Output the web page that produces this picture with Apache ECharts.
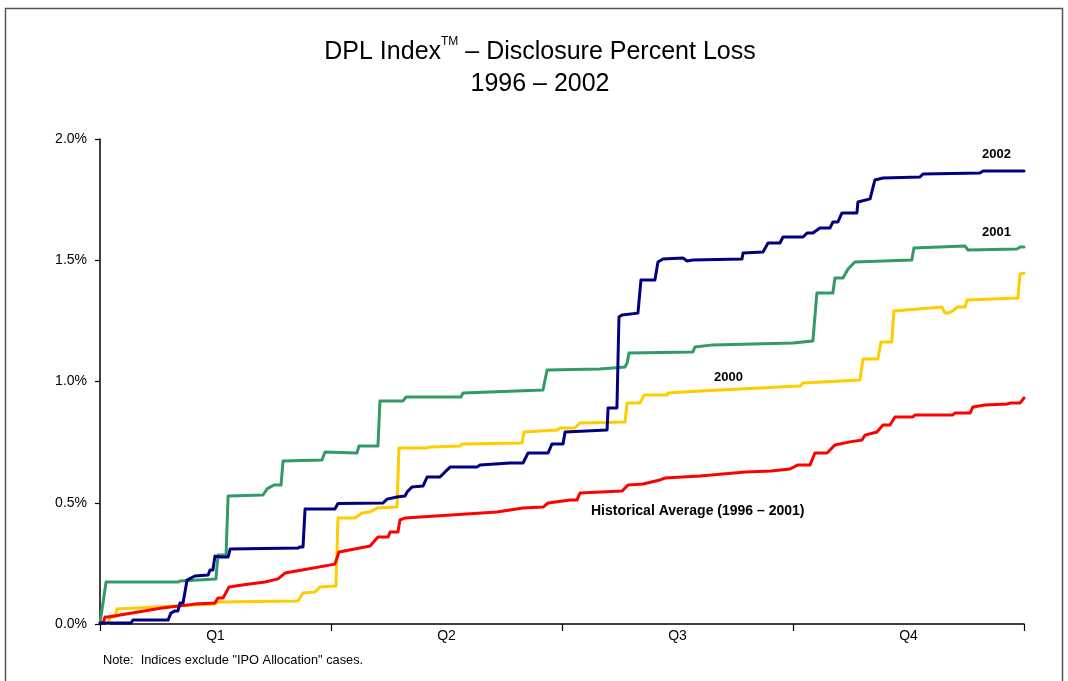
<!DOCTYPE html>
<html>
<head>
<meta charset="utf-8">
<title>DPL Index – Disclosure Percent Loss</title>
<script src="https://cdn.jsdelivr.net/npm/echarts@6/dist/echarts.min.js"></script>
<style>
  html, body { margin: 0; padding: 0; background: #ffffff; }
  #chart { width: 1068px; height: 681px; }
</style>
</head>
<body>
<div id="chart"></div>
<script>
// Quarter labels on the x axis (the year runs over days 0..365)
const quarters = ['Q1', 'Q2', 'Q3', 'Q4'];
const yearDays = 365;

// Percent-loss tick values on the y axis
const yTickValues = [0, 0.5, 1.0, 1.5, 2.0];

// Cumulative disclosure percent loss, [day of year, percent]
const dpl2002 = [
  [0, 0.004], [12.2, 0.004], [13, 0.016], [26.9, 0.016], [28, 0.045], [29.6, 0.054],
  [30.8, 0.054], [31.6, 0.087], [32.8, 0.087], [34.4, 0.181], [37.5, 0.198], [42.7, 0.202],
  [43.5, 0.223], [44.6, 0.223], [45.4, 0.280], [47.4, 0.276], [50.6, 0.276], [51.4, 0.309],
  [78.2, 0.313], [79, 0.318], [80.2, 0.318], [81, 0.474], [92.8, 0.474], [94, 0.497],
  [111.8, 0.499], [113.4, 0.515], [117.3, 0.524], [120.5, 0.528], [121.3, 0.544], [123.2, 0.565],
  [127.6, 0.569], [129.2, 0.606], [134.3, 0.606], [136.3, 0.627], [138.3, 0.647], [148.9, 0.647],
  [150.1, 0.656], [162, 0.664], [167.1, 0.664], [169.1, 0.705], [177, 0.705], [178.5, 0.742],
  [182.9, 0.742], [183.7, 0.792], [200.3, 0.800], [200.7, 0.891], [204.2, 0.891], [205, 1.266],
  [206.2, 1.274], [212.5, 1.282], [213.7, 1.419], [219.2, 1.419], [220.4, 1.493], [222.4, 1.505],
  [230.3, 1.509], [231.9, 1.497], [234.2, 1.501], [253.6, 1.505], [254, 1.530], [261.9, 1.534],
  [263.9, 1.571], [268.6, 1.571], [269.8, 1.596], [277.7, 1.596], [279.3, 1.612], [281.6, 1.612],
  [284.4, 1.633], [288.4, 1.633], [289.5, 1.658], [291.5, 1.658], [293.1, 1.695], [299, 1.695],
  [299.4, 1.740], [304.2, 1.753], [306.1, 1.831], [309.3, 1.839], [323.9, 1.843], [325.1, 1.856],
  [347.6, 1.860], [348.8, 1.868], [365, 1.868]
];

const dpl2001 = [
  [0, 0.004], [2.4, 0.173], [30.8, 0.173], [31.6, 0.177], [45.8, 0.186], [46.6, 0.285],
  [49.8, 0.285], [50.6, 0.528], [64.4, 0.532], [66, 0.557], [68.7, 0.573], [71.5, 0.573],
  [72.3, 0.672], [87.7, 0.676], [88.9, 0.709], [101.5, 0.705], [102.3, 0.734], [109.8, 0.734],
  [110.6, 0.920], [119.7, 0.920], [120.9, 0.936], [142.6, 0.936], [143.4, 0.953], [175, 0.965],
  [176.6, 1.047], [197.5, 1.052], [198, 1.060], [207.4, 1.060], [208.2, 1.076], [209, 1.118],
  [234.2, 1.122], [235, 1.142], [242.1, 1.151], [273.7, 1.159], [281.6, 1.167], [283.2, 1.365],
  [289.5, 1.365], [290.3, 1.427], [293.5, 1.427], [295.5, 1.464], [298.2, 1.493], [320.7, 1.501],
  [321.5, 1.551], [341.7, 1.559], [342.9, 1.542], [362.2, 1.546], [363.4, 1.555], [365, 1.555]
];

const dpl2000 = [
  [3.2, 0.000], [4, 0.029], [5.9, 0.029], [6.7, 0.062], [45.4, 0.082], [46.6, 0.091],
  [78.2, 0.095], [80.2, 0.128], [84.9, 0.132], [86.9, 0.153], [93.2, 0.157], [94, 0.437],
  [100.7, 0.437], [103.5, 0.458], [106.7, 0.462], [109.4, 0.478], [117.3, 0.482], [118.1, 0.726],
  [129.2, 0.726], [130.4, 0.730], [142.2, 0.734], [143, 0.742], [166.7, 0.746], [167.5, 0.792],
  [180.5, 0.800], [181.7, 0.808], [187.6, 0.808], [189.6, 0.829], [207.4, 0.833], [208.2, 0.911],
  [213.3, 0.911], [214.9, 0.944], [224, 0.944], [224.4, 0.953], [237, 0.961], [276.5, 0.981],
  [277.7, 0.994], [300.2, 1.006], [301.4, 1.093], [307.3, 1.093], [308.5, 1.163], [312.8, 1.163],
  [313.6, 1.291], [332.6, 1.307], [333.8, 1.282], [335, 1.282], [336.9, 1.291], [338.5, 1.307],
  [341.7, 1.307], [342.5, 1.336], [362.6, 1.344], [363.4, 1.443], [365, 1.447]
];

const dplHistorical = [
  [1.2, 0.004], [2, 0.029], [3.2, 0.029], [24.5, 0.066], [37.5, 0.082], [45.4, 0.087],
  [46.6, 0.107], [48.6, 0.107], [51, 0.153], [56.1, 0.161], [65.2, 0.173], [70.3, 0.186],
  [73.1, 0.210], [79.8, 0.223], [92.8, 0.247], [94.4, 0.297], [106.7, 0.322], [109.8, 0.359],
  [113.8, 0.359], [114.6, 0.379], [117.7, 0.379], [118.5, 0.429], [120.5, 0.437], [156.8, 0.462],
  [167.1, 0.478], [175, 0.482], [177, 0.499], [185.7, 0.511], [188.4, 0.511], [189.6, 0.540],
  [206.2, 0.548], [208.6, 0.573], [214.5, 0.577], [221.2, 0.594], [223.2, 0.602], [237, 0.610],
  [255, 0.627], [265, 0.631], [272.6, 0.639], [275.7, 0.656], [280.5, 0.656], [282.4, 0.705],
  [287.2, 0.705], [290.3, 0.738], [296.3, 0.751], [301, 0.759], [302.2, 0.779], [306.9, 0.792],
  [309.3, 0.821], [312.1, 0.821], [314, 0.854], [321.1, 0.854], [321.9, 0.862], [336.9, 0.862],
  [337.7, 0.870], [343.7, 0.870], [344.8, 0.895], [349.6, 0.903], [358.3, 0.907], [359.5, 0.911],
  [363.4, 0.911], [365, 0.932]
];

const FONT = '"Liberation Sans", Arial, Helvetica, sans-serif';

const chart = echarts.init(document.getElementById('chart'), null, { renderer: 'canvas' });

function lineSeries(name, data, color) {
  return {
    name: name,
    type: 'line',
    xAxisIndex: 0,
    yAxisIndex: 0,
    data: data,
    showSymbol: false,
    symbol: 'none',
    smooth: false,
    animation: false,
    lineStyle: { color: color, width: 3, join: 'round', cap: 'round' },
    emphasis: { disabled: true }
  };
}

chart.setOption({
  backgroundColor: '#ffffff',
  animation: false,
  title: {
    left: 535,
    top: 31,
    textAlign: 'center',
    text: '{m|DPL Index}{s|TM}{m| – Disclosure Percent Loss}\n{m|1996 – 2002}',
    textStyle: {
      fontFamily: FONT,
      fontWeight: 'normal',
      rich: {
        m: { fontFamily: FONT, fontSize: 25, fontWeight: 'normal', color: '#000000', lineHeight: 32 },
        s: { fontFamily: FONT, fontSize: 12, fontWeight: 'normal', color: '#000000', lineHeight: 32, verticalAlign: 'top', padding: [0, 0, 9, 0] }
      }
    }
  },
  grid: { left: 100, right: 44, top: 139, bottom: 57, containLabel: false },
  xAxis: [
    {
      type: 'value',
      min: 0,
      max: yearDays,
      position: 'bottom',
      show: false
    },
    {
      type: 'category',
      data: quarters,
      position: 'bottom',
      boundaryGap: true,
      axisLine: { show: true, lineStyle: { color: '#000000', width: 1.5 } },
      axisTick: { show: true, length: 7, inside: false, lineStyle: { color: '#000000', width: 1.2 } },
      axisLabel: { fontFamily: FONT, fontSize: 14, color: '#000000', margin: 5 },
      splitLine: { show: false }
    }
  ],
  yAxis: {
    type: 'value',
    min: yTickValues[0],
    max: yTickValues[yTickValues.length - 1],
    interval: 0.5,
    axisLine: { show: true, lineStyle: { color: '#000000', width: 1.5 } },
    axisTick: { show: true, length: 5, inside: false, lineStyle: { color: '#000000', width: 1.2 } },
    axisLabel: {
      fontFamily: FONT, fontSize: 14, color: '#000000', margin: 13,
      formatter: v => v.toFixed(1) + '%'
    },
    splitLine: { show: false }
  },
  series: [
    lineSeries('2000', dpl2000, '#FFCC00'),
    lineSeries('Historical Average (1996 – 2001)', dplHistorical, '#FF0000'),
    lineSeries('2001', dpl2001, '#339966'),
    lineSeries('2002', dpl2002, '#000080')
  ],
  graphic: [
    {
      type: 'rect',
      silent: true,
      shape: { x: 5.5, y: 8.5, width: 1057, height: 700 },
      style: { fill: 'none', stroke: '#555555', lineWidth: 1.5 },
      z: -1
    },
    {
      type: 'text', left: 982, top: 148, silent: true,
      style: { text: '2002', font: 'bold 13px ' + FONT, fill: '#000000' }
    },
    {
      type: 'text', left: 982, top: 226, silent: true,
      style: { text: '2001', font: 'bold 13px ' + FONT, fill: '#000000' }
    },
    {
      type: 'text', left: 714, top: 371, silent: true,
      style: { text: '2000', font: 'bold 13px ' + FONT, fill: '#000000' }
    },
    {
      type: 'text', left: 591, top: 504, silent: true,
      style: { text: 'Historical Average (1996 – 2001)', font: 'bold 14px ' + FONT, fill: '#000000' }
    },
    {
      type: 'text', left: 103, top: 654, silent: true,
      style: { text: 'Note:  Indices exclude "IPO Allocation" cases.', font: '12.8px ' + FONT, fill: '#000000' }
    }
  ]
});
</script>
</body>
</html>
